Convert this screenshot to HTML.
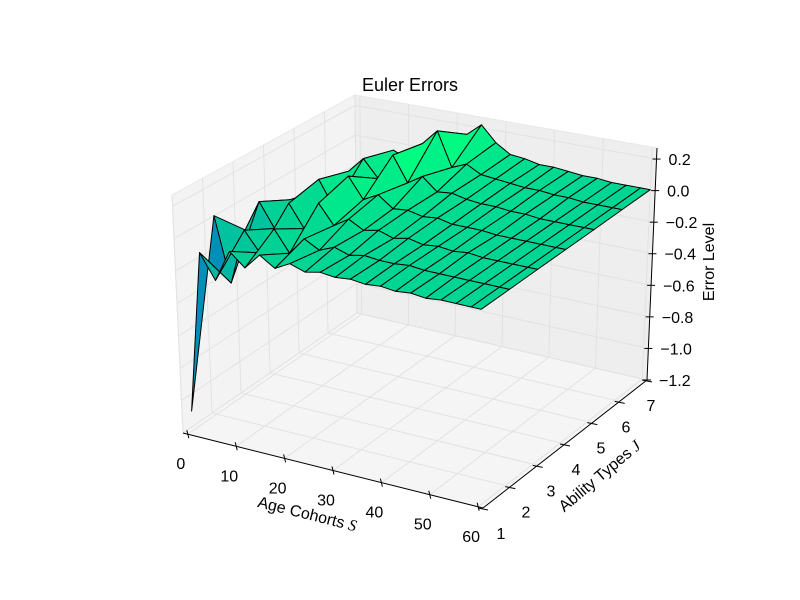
<!DOCTYPE html>
<html><head><meta charset="utf-8"><style>
body{margin:0;background:#fff;}
svg{display:block;font-family:"Liberation Sans","DejaVu Sans",sans-serif;}
</style></head><body>
<svg id="chart" width="800" height="600" viewBox="0 0 800 600">
<rect width="800" height="600" fill="#fff"/>
<g id="panes"></g>
<g id="surface"></g>
<g id="axes"></g>
<text x="410" y="91" text-anchor="middle" font-size="18">Euler Errors</text>
<text transform="translate(306,519) rotate(14)" text-anchor="middle" font-size="16">Age Cohorts <tspan font-style="italic" font-family="Liberation Serif, serif">S</tspan></text>
<text transform="translate(603,480) rotate(-40)" text-anchor="middle" font-size="16">Ability Types <tspan font-style="italic" font-family="Liberation Serif, serif">J</tspan></text>
<text transform="translate(714,262) rotate(-90)" text-anchor="middle" font-size="16">Error Level</text>
</svg>
<script>
const ages = [1,4,7,10,13,16,19,22,25,28,31,34,37,40,43,46,49,52,55,58,60];
const abilities = [1,2,3,4,5,6,7];
const errors = [
 [-1.05,-0.05,-0.2,0.0,-0.08,0.02,-0.04,0.01,-0.02,0.0,-0.01,0.0,-0.01,0.0,-0.01,0.0,-0.01,0.0,0.0,0.0,0.0],
 [0.05,-0.35,0.0,-0.12,0.05,-0.08,0.03,-0.02,0.02,-0.01,0.01,0.0,0.0,0.01,0.0,0.0,0.0,0.0,0.0,0.0,0.0],
 [-0.15,0.05,-0.1,0.08,-0.06,0.12,0.0,0.06,0.01,0.03,0.0,0.02,0.0,0.01,0.0,0.01,0.0,0.0,0.0,0.0,0.0],
 [-0.1,-0.05,0.0,0.12,-0.04,0.18,0.05,0.1,0.03,0.04,0.02,0.03,0.01,0.01,0.01,0.0,0.0,0.0,0.0,0.0,0.0],
 [-0.2,-0.15,-0.06,0.06,0.16,0.05,0.22,0.06,0.12,0.04,0.05,0.03,0.02,0.02,0.01,0.01,0.0,0.0,0.0,0.0,0.0],
 [-0.3,-0.25,-0.2,-0.1,0.1,0.06,0.18,0.28,0.06,0.1,0.05,0.04,0.03,0.02,0.02,0.01,0.01,0.0,0.0,0.0,0.0],
 [-0.4,-0.38,-0.35,-0.3,-0.25,-0.1,0.08,0.14,0.22,0.12,0.06,0.05,0.03,0.03,0.02,0.01,0.01,0.0,0.0,0.0,0.0]
];
const xTicks = [0,10,20,30,40,50,60];
const yTicks = [1,2,3,4,5,6,7];
const zTicks = [0.2,0.0,-0.2,-0.4,-0.6,-0.8,-1.0,-1.2];
const zLabels = ["0.2","0.0","\u22120.2","\u22120.4","\u22120.6","\u22120.8","\u22121.0","\u22121.2"];

const NS="http://www.w3.org/2000/svg";
const XMIN=-1,XMAX=61,YMIN=1,YMAX=7,ZMIN=-1.2,ZMAX=0.27;
const C={"000":[183,433],"100":[483,508],"110":[647,380],"010":[357,313],
 "001":[172,195],"101":[487,266],"111":[657,148],"011":[355,95]};
function P(x,y,z){
 const u=(x-XMIN)/(XMAX-XMIN),v=(y-YMIN)/(YMAX-YMIN),w=(z-ZMIN)/(ZMAX-ZMIN);
 let sx=0,sy=0;
 for(const k in C){const a=k[0]==='1'?u:1-u,b=k[1]==='1'?v:1-v,c=k[2]==='1'?w:1-w;const f=a*b*c;sx+=f*C[k][0];sy+=f*C[k][1];}
 return [sx,sy];
}
function el(tag,attrs,parent){const e=document.createElementNS(NS,tag);for(const k in attrs)e.setAttribute(k,attrs[k]);parent.appendChild(e);return e;}
function pts(a){return a.map(p=>p[0].toFixed(1)+","+p[1].toFixed(1)).join(" ");}
const panes=document.getElementById('panes');
const X0=XMIN,X1=XMAX,Y0=YMIN,Y1=YMAX,Z0=ZMIN,Z1=ZMAX;
let p=el('polygon',{points:pts([P(X0,Y0,Z0),P(X1,Y0,Z0),P(X1,Y1,Z0),P(X0,Y1,Z0)]),fill:'#f5f5f5',stroke:'#efefef'},panes);

p=el('polygon',{points:pts([P(X0,Y1,Z0),P(X1,Y1,Z0),P(X1,Y1,Z1),P(X0,Y1,Z1)]),fill:'#eeeeee',stroke:'#e8e8e8'},panes);

p=el('polygon',{points:pts([P(X0,Y0,Z0),P(X0,Y1,Z0),P(X0,Y1,Z1),P(X0,Y0,Z1)]),fill:'#f3f3f3',stroke:'#e8e8e8'},panes);

const gs={stroke:'#e2e2e2','stroke-width':1,fill:'none'};
xTicks.forEach(x=>{
 const l=el('polyline',Object.assign({points:pts([P(x,Y0,Z0),P(x,Y1,Z0),P(x,Y1,Z1)])},gs),panes);
 
});
yTicks.forEach(y=>{
 const l=el('polyline',Object.assign({points:pts([P(X1,y,Z0),P(X0,y,Z0),P(X0,y,Z1)])},gs),panes);
 
});
zTicks.forEach(z=>{
 const l=el('polyline',Object.assign({points:pts([P(X0,Y0,z),P(X0,Y1,z),P(X1,Y1,z)])},gs),panes);
 
});
const surf=document.getElementById('surface');
const zmin=-1.05,zmax=0.2;
function col(z){let t=(z-zmin)/(zmax-zmin);t=Math.max(0,Math.min(1,t));return `rgb(0,${Math.round(t*255)},${Math.round(255*(1-t/2))})`;}
const faces=[];
for(let j=0;j<abilities.length-1;j++)for(let i=0;i<ages.length-1;i++){
 const c=[[ages[i],abilities[j],errors[j][i]],[ages[i+1],abilities[j],errors[j][i+1]],[ages[i+1],abilities[j+1],errors[j+1][i+1]],[ages[i],abilities[j+1],errors[j+1][i]]];
 const mx=(ages[i]+ages[i+1])/2/60, my=(abilities[j]+0.5-1)/6;
 faces.push({c,key:mx*0.5-my*0.87,z:(c[0][2]+c[1][2]+c[2][2]+c[3][2])/4});
}
faces.sort((a,b)=>a.key-b.key);
faces.forEach(f=>{
 const poly=el('polygon',{points:pts(f.c.map(q=>P(q[0],q[1],q[2]))),fill:col(f.z),stroke:'#000','stroke-width':1,'stroke-linejoin':'round'},surf);
 
});
const ax=document.getElementById('axes');
function ln(a,b,name){const l=el('line',{x1:a[0],y1:a[1],x2:b[0],y2:b[1],stroke:'#000'},ax);}
ln(P(X0,Y0,Z0),P(X1,Y0,Z0),'x-axis-line');
ln(P(X1,Y0,Z0),P(X1,Y1,Z0),'y-axis-line');
ln(P(X1,Y1,Z0),P(X1,Y1,Z1),'z-axis-line');
xTicks.forEach(x=>{
 const q=P(x,Y0,Z0);
 let t=el('line',{x1:q[0]-1,y1:q[1]-4,x2:q[0]+1,y2:q[1]+4,stroke:'#000'},ax);
 
 t=el('text',{x:q[0]-7,y:q[1]+35,'font-size':16,'text-anchor':'middle'},ax);t.textContent=x;
 
});
yTicks.forEach(y=>{
 const q=P(X1,y,Z0);
 const v=(y-YMIN)/(YMAX-YMIN);
 let t=el('line',{x1:q[0]-5,y1:q[1],x2:q[0]+5,y2:q[1]+2,stroke:'#000'},ax);
 
 t=el('text',{x:q[0]+18-14*v,y:q[1]+31,'font-size':16,'text-anchor':'middle'},ax);t.textContent=y;
 
});
zTicks.forEach((z,k)=>{
 const q=P(X1,Y1,z);
 let t=el('line',{x1:q[0]-4,y1:q[1],x2:q[0]+4,y2:q[1],stroke:'#000'},ax);
 
 t=el('text',{x:q[0]+12,y:q[1]+6,'font-size':16},ax);t.textContent=zLabels[k];
 
});
</script>
</body></html>
